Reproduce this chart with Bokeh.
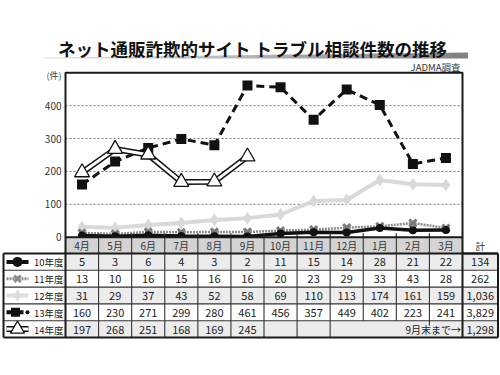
from bokeh.plotting import figure
from bokeh.models import Range1d
from bokeh.embed import file_html
from bokeh.resources import INLINE
from bokeh.core.properties import value

# ---------------- data ----------------
title_text = "ネット通販詐欺的サイト トラブル相談件数の推移"
source_note = "JADMA調査"
unit_label = "(件)"
months = ["4月", "5月", "6月", "7月", "8月", "9月", "10月", "11月", "12月", "1月", "2月", "3月"]
series_names = ["10年度", "11年度", "12年度", "13年度", "14年度"]
v10 = [5, 3, 6, 4, 3, 2, 11, 15, 14, 28, 21, 22]
v11 = [13, 10, 16, 15, 16, 16, 20, 23, 29, 33, 43, 28]
v12 = [31, 29, 37, 43, 52, 58, 69, 110, 113, 174, 161, 159]
v13 = [160, 230, 271, 299, 280, 461, 456, 357, 449, 402, 223, 241]
v14 = [197, 268, 251, 168, 169, 245]
totals = ["134", "262", "1,036", "3,829", "1,298"]
total_header = "計"
note14 = "9月末まで→"
y_ticks = [0, 100, 200, 300, 400]
y_max = 500

# ---------------- layout (pixels) ----------------
W, H = 499, 355
LEG_X0 = 3.0
CH_L = 65.0           # chart left
N = len(months)
CH_R = 462.0          # chart right
CW = (CH_R - CH_L) / N
TOT_R = 497.5
ZERO_PY = 236.7
TOP_PY = 72.3
SY = (ZERO_PY - TOP_PY) / y_max
HDR_B = 253.0
ROW_H = 16.8
FONT = value("Noto Sans CJK JP")


def X(px):
    return (px - CH_L) / CW - 0.5


def Y(py):
    return (ZERO_PY - py) / SY


p = figure(width=W, height=H, output_backend="svg", toolbar_location=None,
           x_range=Range1d(X(0), X(W)), y_range=Range1d(Y(H), Y(0)),
           min_border=0, background_fill_color="white", border_fill_color="white")
p.axis.visible = False
p.grid.visible = False
p.outline_line_color = None

# ---- title swoosh ----
nseg = 24
x_a, x_b = 43.0, 467.0
for k in range(nseg):
    f0 = k / nseg
    f1 = (k + 1) / nseg
    xa = x_a + (x_b - x_a) * f0
    xb = x_a + (x_b - x_a) * f1
    ta = 57.0 - 5.0 * f0
    tb = 57.0 - 5.0 * f1
    g = int(230 - 100 * f1)
    col = "#%02x%02x%02x" % (g, g, g)
    p.patch(x=[X(xa), X(xb + 0.5), X(xb + 0.5), X(xa)], y=[Y(ta), Y(tb), Y(58), Y(58)],
            fill_color=col, line_color=None)
p.text(x=[X(252)], y=[Y(47.5)], text=[title_text], text_font=FONT,
       text_font_size="17.5px", text_font_style="bold", text_align="center",
       text_baseline="middle", text_color="#111111")

p.text(x=[X(460)], y=[Y(66.5)], text=[source_note], text_font=FONT,
       text_font_size="9.5px", text_align="right", text_baseline="middle", text_color="#333333")
p.text(x=[X(61)], y=[Y(74.5)], text=[unit_label], text_font=FONT,
       text_font_size="9px", text_align="right", text_baseline="middle", text_color="#444444")

# ---- chart frame ----
p.quad(left=[X(CH_L)], right=[X(CH_R)], top=[Y(TOP_PY)], bottom=[Y(ZERO_PY)],
       fill_color="white", line_color=None)
grid_vals = [t for t in y_ticks if t > 0]
p.segment(x0=[X(CH_L)] * len(grid_vals), x1=[X(CH_R)] * len(grid_vals), y0=grid_vals, y1=grid_vals,
          line_color="#777777", line_width=1, line_dash="2 2")
p.text(x=[X(61)] * len(y_ticks), y=y_ticks, text=[str(t) for t in y_ticks], text_font=FONT,
       text_font_size="10px", text_align="right", text_baseline="middle", text_color="#333333")

xs = list(range(N))
# 12年度
p.line(xs, v12, line_color="#d9d9d9", line_width=4)
p.scatter(xs, v12, marker="diamond", size=13, fill_color="#d9d9d9", line_color=None)
# 11年度
p.line(xs, v11, line_color="#8c8c8c", line_width=2.5, line_dash="2 1")
p.scatter(xs, v11, marker="x", size=10, line_color="#7a7a7a", line_width=3)
# 10年度
p.line(xs, v10, line_color="#111111", line_width=3.5)
p.scatter(xs, v10, marker="circle", size=8, fill_color="#111111", line_color=None)
# 13年度
p.line(xs, v13, line_color="#111111", line_width=3, line_dash="8 5")
p.scatter(xs, v13, marker="square", size=10, fill_color="#111111", line_color=None)
# 14年度
x14 = xs[:len(v14)]
p.line(x14, v14, line_color="#111111", line_width=6)
p.line(x14, v14, line_color="white", line_width=3)
p.scatter(x14, v14, marker="triangle", size=15, fill_color="white", line_color="#111111", line_width=1.3)

# bottom ticks
bx = [X(CH_L + CW * i) for i in range(1, N)]
p.segment(x0=bx, x1=bx, y0=[Y(ZERO_PY)] * len(bx), y1=[Y(ZERO_PY - 4)] * len(bx),
          line_color="#333333", line_width=1.2)

# ---- table ----
p.quad(left=[X(CH_L)], right=[X(CH_R)], top=[Y(ZERO_PY)], bottom=[Y(HDR_B)],
       fill_color="#d3d3d3", line_color=None)
nrows = len(series_names)
for r in range(nrows):
    t = HDR_B + r * ROW_H
    b = t + ROW_H
    fc = "#ececec" if r % 2 == 0 else "white"
    p.quad(left=[X(CH_L)], right=[X(TOT_R)], top=[Y(t)], bottom=[Y(b)], fill_color=fc, line_color=None)

p.text(x=xs, y=[Y((ZERO_PY + HDR_B) / 2 + 0.5)] * N, text=months, text_font=FONT,
       text_font_size="10px", text_align="center", text_baseline="middle", text_color="#333333")
TOT_C = (CH_R + TOT_R) / 2
p.text(x=[X(TOT_C)], y=[Y((ZERO_PY + HDR_B) / 2 + 1)], text=[total_header], text_font=FONT,
       text_font_size="9.5px", text_align="center", text_baseline="middle", text_color="#333333")

all_vals = [v10, v11, v12, v13, v14]
for r, vals in enumerate(all_vals):
    yc = Y(HDR_B + r * ROW_H + ROW_H / 2 + 0.5)
    p.text(x=xs[:len(vals)], y=[yc] * len(vals), text=[str(v) for v in vals], text_font=FONT,
           text_font_size="11px", text_align="center", text_baseline="middle", text_color="#222222")
    p.text(x=[X(TOT_C)], y=[yc], text=[totals[r]], text_font=FONT,
           text_font_size="11px", text_align="center", text_baseline="middle", text_color="#222222")
    p.text(x=[X(CH_L - 2)], y=[yc], text=[series_names[r]], text_font=FONT,
           text_font_size="9.5px", text_align="right", text_baseline="middle", text_color="#222222")

last_r = nrows - 1
p.text(x=[X(CH_R - 1.5)], y=[Y(HDR_B + last_r * ROW_H + ROW_H / 2 + 0.5)], text=[note14], text_font=FONT,
       text_font_size="10px", text_align="right", text_baseline="middle", text_color="#222222")

# legend symbols
sx0, sx1, sxc = X(LEG_X0 + 3), X(LEG_X0 + 25), X(LEG_X0 + 14)
rc = [Y(HDR_B + r * ROW_H + ROW_H / 2) for r in range(nrows)]
p.line([sx0, sx1], [rc[0], rc[0]], line_color="#111111", line_width=4)
p.scatter([sxc], [rc[0]], marker="circle", size=10, fill_color="#111111", line_color=None)
p.line([sx0, sx1], [rc[1], rc[1]], line_color="#8c8c8c", line_width=3, line_dash="2 1")
p.scatter([sxc], [rc[1]], marker="x", size=9, line_color="#8c8c8c", line_width=3)
p.line([sx0, sx1], [rc[2], rc[2]], line_color="#dddddd", line_width=4)
p.scatter([sxc], [rc[2]], marker="diamond", size=12, fill_color="#dddddd", line_color=None)
p.line([sx0, X(LEG_X0 + 20)], [rc[3], rc[3]], line_color="#111111", line_width=4)
p.scatter([X(LEG_X0 + 12)], [rc[3]], marker="square", size=9, fill_color="#111111", line_color=None)
p.scatter([X(LEG_X0 + 24)], [rc[3]], marker="circle", size=4, fill_color="#111111", line_color=None)
p.line([sx0, sx1], [rc[4], rc[4]], line_color="#111111", line_width=6)
p.line([sx0, sx1], [rc[4], rc[4]], line_color="white", line_width=3)
p.scatter([sxc], [rc[4]], marker="triangle", size=14, fill_color="white", line_color="#111111", line_width=1.3)

# table grid lines
GL = "#333333"
ybounds = [HDR_B + r * ROW_H for r in range(1, nrows)]
p.segment(x0=[X(LEG_X0)] * len(ybounds), x1=[X(TOT_R)] * len(ybounds), y0=[Y(v) for v in ybounds],
          y1=[Y(v) for v in ybounds], line_color=GL, line_width=1.1)
TB = HDR_B + nrows * ROW_H
R14 = HDR_B + last_r * ROW_H
vx, vy0, vy1 = [], [], []
for i in range(1, N):
    vx.append(X(CH_L + CW * i))
    vy0.append(Y(ZERO_PY))
    if i <= 8:
        vy1.append(Y(TB))
    elif i == 11:
        vy1.append(Y(R14 + 5))
    else:
        vy1.append(Y(R14))
p.segment(x0=vx, x1=vx, y0=vy0, y1=vy1, line_color=GL, line_width=1.1)

# outer borders
OB = "#1a1a1a"
p.quad(left=[X(CH_L)], right=[X(CH_R)], top=[Y(TOP_PY)], bottom=[Y(ZERO_PY)],
       fill_color=None, line_color=OB, line_width=2)
p.segment(x0=[X(LEG_X0), X(LEG_X0), X(LEG_X0), X(CH_L), X(CH_R), X(TOT_R), X(CH_L), X(CH_R)],
          x1=[X(TOT_R), X(TOT_R), X(LEG_X0), X(CH_L), X(CH_R), X(TOT_R), X(CH_L), X(TOT_R)],
          y0=[Y(HDR_B), Y(TB), Y(HDR_B), Y(ZERO_PY), Y(ZERO_PY), Y(HDR_B), Y(ZERO_PY), Y(HDR_B)],
          y1=[Y(HDR_B), Y(TB), Y(TB), Y(TB), Y(TB), Y(TB), Y(ZERO_PY), Y(HDR_B)],
          line_color=OB, line_width=2)

open("out.html", "w").write(file_html(p, INLINE))
